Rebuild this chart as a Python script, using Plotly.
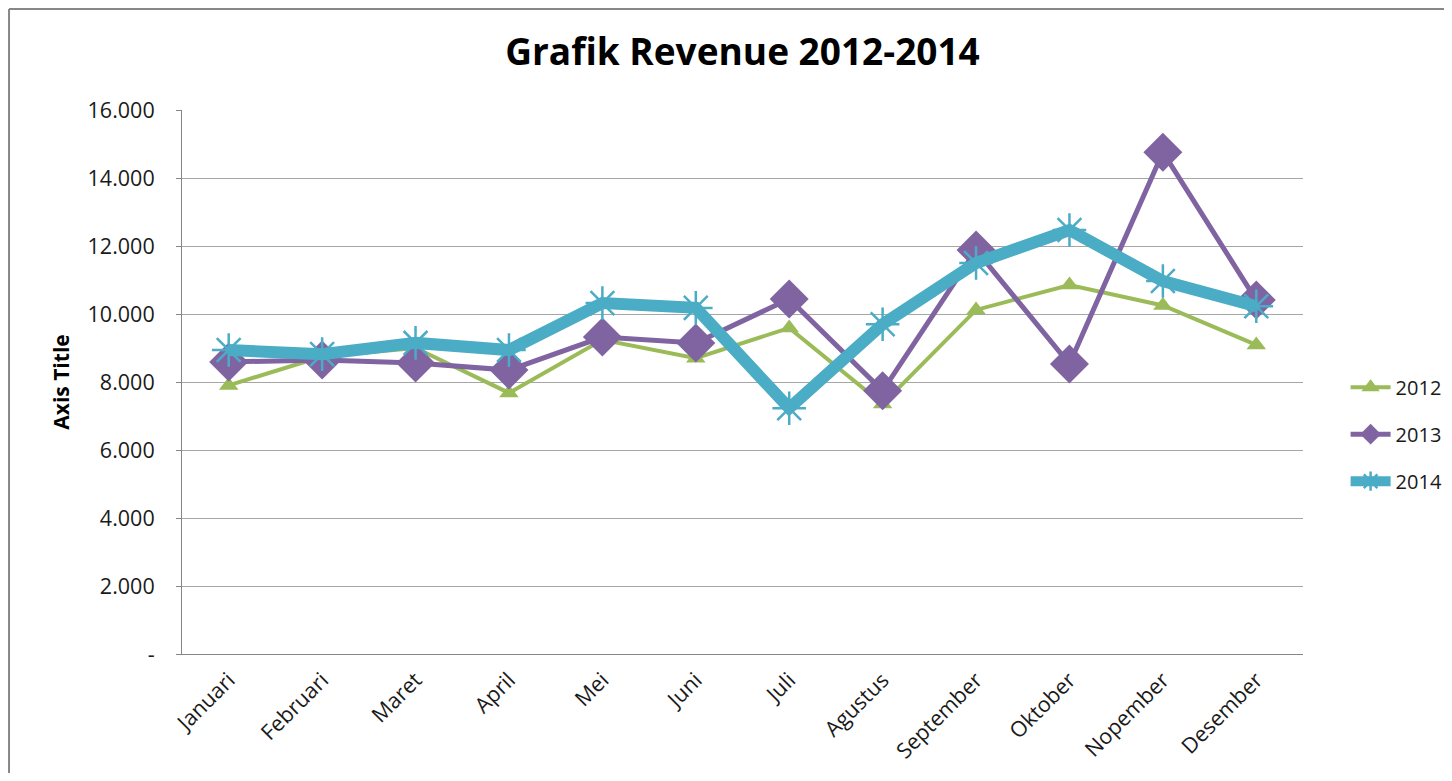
import plotly.graph_objects as go

months = ["Januari", "Februari", "Maret", "April", "Mei", "Juni", "Juli",
          "Agustus", "September", "Oktober", "Nopember", "Desember"]
rev_2012 = [7900, 8750, 9000, 7680, 9240, 8700, 9590, 7350, 10120, 10850, 10250, 9090]
rev_2013 = [8590, 8650, 8560, 8350, 9320, 9150, 10440, 7740, 11880, 8530, 14760, 10410]
rev_2014 = [8940, 8820, 9150, 8940, 10320, 10180, 7230, 9700, 11500, 12470, 10970, 10230]
y_ticks = [0, 2000, 4000, 6000, 8000, 10000, 12000, 14000, 16000]
y_tick_text = ["-", "2.000", "4.000", "6.000", "8.000", "10.000", "12.000", "14.000", "16.000"]

FONT = "Open Sans"

fig = go.Figure()
fig.add_trace(go.Scatter(
    x=months, y=rev_2012, name="2012", mode="lines+markers", legendgroup="a",
    line=dict(color="#9BBB59", width=4),
    marker=dict(symbol="triangle-up", size=17, color="#9BBB59"),
))
fig.add_trace(go.Scatter(
    x=months, y=rev_2013, name="2013", mode="lines+markers", legendgroup="b",
    line=dict(color="#8064A2", width=5),
    marker=dict(symbol="diamond", size=30, color="#8064A2"),
))
fig.add_trace(go.Scatter(
    x=months, y=rev_2014, name="2014", mode="lines+markers", legendgroup="c",
    line=dict(color="#4BACC6", width=12),
    marker=dict(symbol="asterisk-open", size=28, color="#4BACC6",
                line=dict(color="#4BACC6", width=2.5)),
))

fig.update_layout(
    width=1436, height=765,
    margin=dict(l=174, r=141, t=102, b=119, autoexpand=False),
    paper_bgcolor="white", plot_bgcolor="white",
    font=dict(family=FONT, color="#1a1a1a"),
    title=dict(text="<b>Grafik Revenue 2012-2014</b>", x=0.5, xref="paper",
               y=0.9425, yref="container", yanchor="middle",
               font=dict(family=FONT, size=37, color="black")),
    legend=dict(x=1.038, xanchor="left", y=0.404, yanchor="middle",
                font=dict(family=FONT, size=20, color="#1a1a1a"),
                tracegroupgap=18, itemwidth=40, bgcolor="rgba(0,0,0,0)"),
    showlegend=True,
    shapes=[
        dict(type="line", xref="paper", yref="paper", x0=-0.1543, x1=1.2, y0=1.1857, y1=1.1857,
             line=dict(color="#878787", width=2)),
        dict(type="line", xref="paper", yref="paper", x0=-0.1543, x1=-0.1543, y0=-0.3, y1=1.1857,
             line=dict(color="#878787", width=2)),
    ],
)
fig.update_xaxes(
    type="category", range=[-0.5, 11.5], tickangle=-45,
    showline=True, linecolor="#868686", linewidth=1, mirror=False,
    showgrid=False, ticks="", ticklabelstandoff=4,
    tickfont=dict(family=FONT, size=21.5, color="#1a1a1a"),
)
fig.update_yaxes(
    range=[0, 16000], tickvals=y_ticks, ticktext=y_tick_text,
    showline=True, linecolor="#868686", linewidth=1,
    showgrid=True, gridcolor="#A6A6A6", gridwidth=1,
    ticks="outside", ticklen=5, tickcolor="#868686", ticklabelstandoff=17,
    tickfont=dict(family=FONT, size=21.5, color="#1a1a1a"),
    title=dict(text="<b>Axis Title</b>", font=dict(family=FONT, size=21, color="black"), standoff=12),
    zeroline=False,
)

fig.write_html("out.html")
